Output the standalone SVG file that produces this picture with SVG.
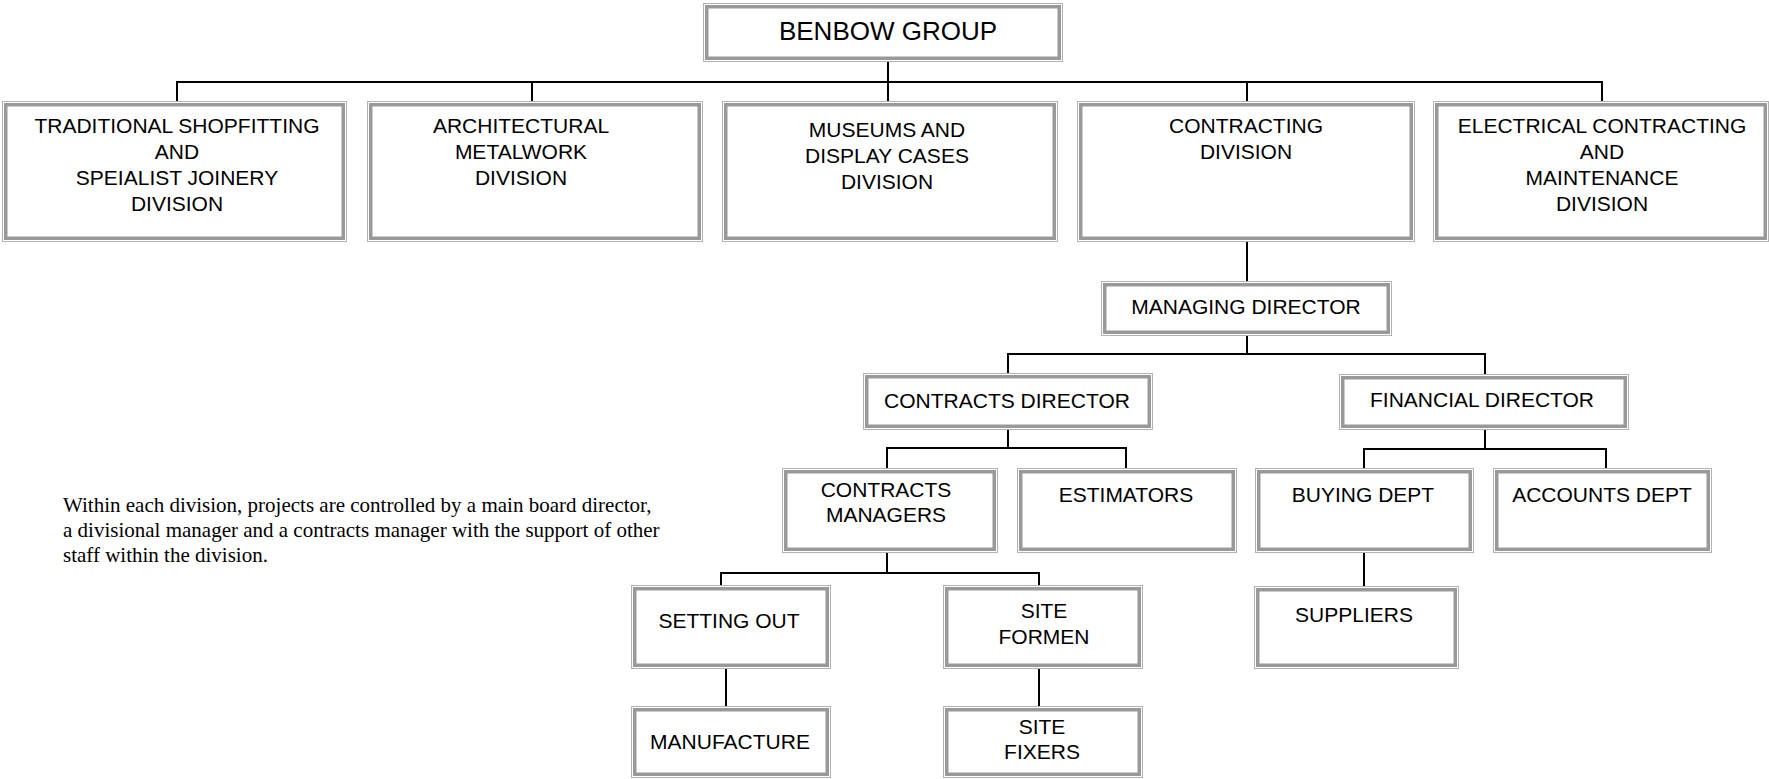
<svg xmlns="http://www.w3.org/2000/svg" width="1769" height="779" viewBox="0 0 1769 779">
<style>
.o{fill:#fff;stroke:#b2b2b2;stroke-width:1}
.b{fill:none;stroke:#999;stroke-width:3.5}
.t{font-family:"Liberation Sans",Arial,sans-serif;font-size:21px;text-anchor:middle;fill:#000}
.c{stroke:#000;stroke-width:2;fill:none;stroke-linejoin:miter}
.n{font-family:"Liberation Serif","Times New Roman",serif;font-size:21px;fill:#000}
</style>
<rect width="1769" height="779" fill="#fff"/>
<g id="connectors" class="c">
<path d="M888,62V82"/>
<path d="M177,101V82H1602V101"/>
<path d="M532,82V101M888,82V101M1247,82V101"/>
<path d="M1247,242V281"/>
<path d="M1247,336V354"/>
<path d="M1008,373V354H1485V374"/>
<path d="M1008,430V448"/>
<path d="M887,468V448H1126V468"/>
<path d="M1485,430V449"/>
<path d="M1364,468V449H1606V468"/>
<path d="M887,553V573"/>
<path d="M721,585V573H1039V585"/>
<path d="M726,669V706"/>
<path d="M1039,669V706"/>
<path d="M1364,553V586"/>
</g>
<g id="benbow-group">
<rect class="o" x="703.5" y="3.5" width="359" height="58"/>
<rect class="b" x="706.75" y="6.75" width="352.5" height="51.5"/>
<text class="t" x="888" y="40" style="font-size:26px">BENBOW GROUP</text>
</g>
<g id="div-shopfitting">
<rect class="o" x="2.5" y="101.5" width="344" height="140"/>
<rect class="b" x="5.75" y="104.75" width="337.5" height="133.5"/>
<text class="t" x="177"><tspan x="177" y="133">TRADITIONAL SHOPFITTING</tspan><tspan x="177" y="159">AND</tspan><tspan x="177" y="185">SPEIALIST JOINERY</tspan><tspan x="177" y="211">DIVISION</tspan></text>
</g>
<g id="div-metalwork">
<rect class="o" x="367.5" y="101.5" width="335" height="140"/>
<rect class="b" x="370.75" y="104.75" width="328.5" height="133.5"/>
<text class="t"><tspan x="521" y="133">ARCHITECTURAL</tspan><tspan x="521" y="159">METALWORK</tspan><tspan x="521" y="185">DIVISION</tspan></text>
</g>
<g id="div-museums">
<rect class="o" x="722.5" y="101.5" width="335" height="140"/>
<rect class="b" x="725.75" y="104.75" width="328.5" height="133.5"/>
<text class="t"><tspan x="887" y="137">MUSEUMS AND</tspan><tspan x="887" y="163">DISPLAY CASES</tspan><tspan x="887" y="189">DIVISION</tspan></text>
</g>
<g id="div-contracting">
<rect class="o" x="1077.5" y="101.5" width="337" height="140"/>
<rect class="b" x="1080.75" y="104.75" width="330.5" height="133.5"/>
<text class="t"><tspan x="1246" y="133">CONTRACTING</tspan><tspan x="1246" y="159">DIVISION</tspan></text>
</g>
<g id="div-electrical">
<rect class="o" x="1433.5" y="101.5" width="335" height="140"/>
<rect class="b" x="1436.75" y="104.75" width="328.5" height="133.5"/>
<text class="t"><tspan x="1602" y="133">ELECTRICAL CONTRACTING</tspan><tspan x="1602" y="159">AND</tspan><tspan x="1602" y="185">MAINTENANCE</tspan><tspan x="1602" y="211">DIVISION</tspan></text>
</g>
<g id="managing-director">
<rect class="o" x="1101.5" y="281.5" width="290" height="54"/>
<rect class="b" x="1104.75" y="284.75" width="283.5" height="47.5"/>
<text class="t" x="1246" y="314">MANAGING DIRECTOR</text>
</g>
<g id="contracts-director">
<rect class="o" x="863.5" y="373.5" width="289" height="56"/>
<rect class="b" x="866.75" y="376.75" width="282.5" height="49.5"/>
<text class="t" x="1007" y="408">CONTRACTS DIRECTOR</text>
</g>
<g id="financial-director">
<rect class="o" x="1339.5" y="374.5" width="289" height="55"/>
<rect class="b" x="1342.75" y="377.75" width="282.5" height="48.5"/>
<text class="t" x="1482" y="407">FINANCIAL DIRECTOR</text>
</g>
<g id="contracts-managers">
<rect class="o" x="782.5" y="468.5" width="215" height="84"/>
<rect class="b" x="785.75" y="471.75" width="208.5" height="77.5"/>
<text class="t"><tspan x="886" y="497">CONTRACTS</tspan><tspan x="886" y="522">MANAGERS</tspan></text>
</g>
<g id="estimators">
<rect class="o" x="1017.5" y="468.5" width="219" height="84"/>
<rect class="b" x="1020.75" y="471.75" width="212.5" height="77.5"/>
<text class="t" x="1126" y="502">ESTIMATORS</text>
</g>
<g id="buying-dept">
<rect class="o" x="1255.5" y="468.5" width="218" height="84"/>
<rect class="b" x="1258.75" y="471.75" width="211.5" height="77.5"/>
<text class="t" x="1363" y="502">BUYING DEPT</text>
</g>
<g id="accounts-dept">
<rect class="o" x="1493.5" y="468.5" width="218" height="84"/>
<rect class="b" x="1496.75" y="471.75" width="211.5" height="77.5"/>
<text class="t" x="1602" y="502">ACCOUNTS DEPT</text>
</g>
<g id="setting-out">
<rect class="o" x="631.5" y="585.5" width="199" height="83"/>
<rect class="b" x="634.75" y="588.75" width="192.5" height="76.5"/>
<text class="t" x="729" y="628">SETTING OUT</text>
</g>
<g id="site-formen">
<rect class="o" x="943.5" y="585.5" width="199" height="83"/>
<rect class="b" x="946.75" y="588.75" width="192.5" height="76.5"/>
<text class="t"><tspan x="1044" y="618">SITE</tspan><tspan x="1044" y="644">FORMEN</tspan></text>
</g>
<g id="suppliers">
<rect class="o" x="1254.5" y="586.5" width="204" height="82"/>
<rect class="b" x="1257.75" y="589.75" width="197.5" height="75.5"/>
<text class="t" x="1354" y="622">SUPPLIERS</text>
</g>
<g id="manufacture">
<rect class="o" x="631.5" y="706.5" width="199" height="71"/>
<rect class="b" x="634.75" y="709.75" width="192.5" height="64.5"/>
<text class="t" x="730" y="749">MANUFACTURE</text>
</g>
<g id="site-fixers">
<rect class="o" x="943.5" y="706.5" width="199" height="71"/>
<rect class="b" x="946.75" y="709.75" width="192.5" height="64.5"/>
<text class="t"><tspan x="1042" y="734">SITE</tspan><tspan x="1042" y="759">FIXERS</tspan></text>
</g>
<g id="note">
<text class="n"><tspan x="63" y="512">Within each division, projects are controlled by a main board director,</tspan><tspan x="63" y="537">a divisional manager and a contracts manager with the support of other</tspan><tspan x="63" y="562">staff within the division.</tspan></text>
</g>
</svg>
